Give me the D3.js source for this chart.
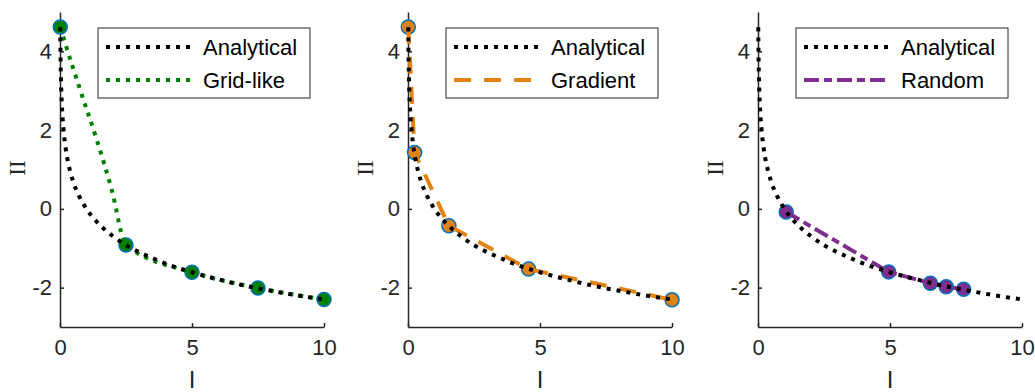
<!DOCTYPE html>
<html>
<head>
<meta charset="utf-8">
<script src="https://cdn.jsdelivr.net/npm/d3@7"></script>
<style>
  html, body { margin: 0; padding: 0; background: #fff; }
  svg { display: block; }
</style>
</head>
<body>
<svg id="chart" width="1035" height="392"></svg>
<script>
// ---- data ----
const xTicks = [0, 5, 10];
const yTicks = [-2, 0, 2, 4];
const xDomain = [0, 10];
const yDomain = [-3, 5];

const analyticalX = [0.01, 0.02, 0.04, 0.07, 0.1, 0.15, 0.2, 0.3, 0.4, 0.5, 0.7, 1, 1.3, 1.7, 2, 2.5, 3, 3.5, 4, 5, 6, 7, 8, 9, 10];
const analyticalY = [4.61, 3.91, 3.22, 2.66, 2.30, 1.90, 1.61, 1.20, 0.92, 0.69, 0.36, 0, -0.26, -0.53, -0.69, -0.92, -1.10, -1.25, -1.39, -1.61, -1.79, -1.95, -2.08, -2.20, -2.30];

const gridX = [0.01, 2.5, 5, 7.5, 10];
const gridY = [4.62, -0.92, -1.61, -2.01, -2.30];
const gridLineX = [0.01, 0.19, 0.76, 1.39, 1.96, 2.5, 5, 7.5, 10];
const gridLineY = [4.62, 4.22, 3.03, 1.76, 0.48, -0.92, -1.61, -2.01, -2.30];

const gradX = [0.01, 0.25, 1.55, 4.57, 10];
const gradY = [4.62, 1.43, -0.43, -1.53, -2.31];

const randX = [1.07, 4.95, 6.53, 7.13, 7.79];
const randY = [-0.08, -1.60, -1.89, -1.98, -2.04];

const methodNames = ["Grid-like", "Gradient", "Random"];
const methodColors = ["#008000", "#E3830F", "#7E2F8E"];
const methodDash = ["4,6", "17,13", "15,5,8,5"];
const panelLeft = [60, 408, 758];

// ---- drawing ----
const svg = d3.select("#chart");
const axisColor = "#262626";
const panelW = 264;
const yScale = d3.scaleLinear().domain(yDomain).range([327, 12]);

const panels = [
  { name: methodNames[0], lx: gridLineX, ly: gridLineY, mx: gridX, my: gridY },
  { name: methodNames[1], lx: gradX, ly: gradY, mx: gradX, my: gradY },
  { name: methodNames[2], lx: randX, ly: randY, mx: randX, my: randY }
];

panels.forEach((p, i) => {
  const x0 = panelLeft[i];
  const xScale = d3.scaleLinear().domain(xDomain).range([x0, x0 + panelW]);
  const g = svg.append("g");

  // axes
  const xAxis = d3.axisBottom(xScale).tickValues(xTicks).tickSize(-4).tickSizeOuter(0).tickPadding(12).tickFormat(d3.format("d"));
  const yAxis = d3.axisLeft(yScale).tickValues(yTicks).tickSize(-4).tickSizeOuter(0).tickPadding(8).tickFormat(d => d < 0 ? "-" + Math.abs(d) : d);

  const gx = g.append("g").attr("transform", `translate(0,${yScale(yDomain[0])})`).call(xAxis);
  const gy = g.append("g").attr("transform", `translate(${x0},0)`).call(yAxis);
  [gx, gy].forEach(a => {
    a.select(".domain").attr("stroke", axisColor).attr("stroke-width", 1.5);
    a.selectAll(".tick line").attr("stroke", axisColor).attr("stroke-width", 1.5);
    a.selectAll(".tick text").attr("fill", axisColor)
      .style("font-family", "'Liberation Sans', Arial, sans-serif").style("font-size", "22px");
  });
  gx.selectAll(".tick text").attr("dy", "0.71em");

  // axis labels
  g.append("text")
    .attr("x", x0 + panelW / 2).attr("y", 388)
    .attr("text-anchor", "middle")
    .attr("fill", axisColor)
    .style("font-family", "'Liberation Sans', Arial, sans-serif").style("font-size", "24px")
    .text("I");
  g.append("text")
    .attr("transform", `translate(${x0 - 35},168) rotate(-90)`)
    .attr("text-anchor", "middle")
    .attr("fill", axisColor)
    .style("font-family", "'Liberation Serif', 'Times New Roman', serif").style("font-size", "23px")
    .text("II");

  // markers
  const pts = p.mx.map((v, k) => [v, p.my[k]]);
  g.selectAll("circle.m").data(pts).enter().append("circle")
    .attr("cx", d => xScale(d[0])).attr("cy", d => yScale(d[1]))
    .attr("r", 7)
    .attr("fill", methodColors[i])
    .attr("stroke", "#0072BD").attr("stroke-width", 1.5);

  // method line
  const line = d3.line().x(d => xScale(d[0])).y(d => yScale(d[1]));
  const mline = p.lx.map((v, k) => [v, p.ly[k]]);
  g.append("path").datum(mline)
    .attr("d", line.curve(i === 0 ? d3.curveMonotoneX : d3.curveLinear))
    .attr("fill", "none")
    .attr("stroke", methodColors[i]).attr("stroke-width", 4)
    .attr("stroke-dasharray", methodDash[i]);

  // analytical
  const aline = analyticalX.map((v, k) => [v, analyticalY[k]]);
  g.append("path").datum(aline)
    .attr("d", d3.line().x(d => xScale(d[0])).y(d => yScale(d[1])).curve(d3.curveMonotoneX))
    .attr("fill", "none")
    .attr("stroke", "#000").attr("stroke-width", 4)
    .attr("stroke-dasharray", "4,6");

  // legend
  const lw = 212, lh = 70;
  const lx = x0 + panelW - 14 - lw, ly = 28;
  const lg = g.append("g").attr("transform", `translate(${lx},${ly})`);
  lg.append("rect").attr("width", lw).attr("height", lh)
    .attr("fill", "#fff").attr("stroke", axisColor).attr("stroke-width", 1);
  const entries = [
    { label: "Analytical", color: "#000", dash: "4,6" },
    { label: p.name, color: methodColors[i], dash: methodDash[i] }
  ];
  entries.forEach((e, k) => {
    const yy = 19 + k * 33;
    lg.append("line").attr("x1", 8).attr("x2", 92).attr("y1", yy).attr("y2", yy)
      .attr("stroke", e.color).attr("stroke-width", 4).attr("stroke-dasharray", e.dash);
    lg.append("text").attr("x", 105).attr("y", yy).attr("dy", "0.36em")
      .attr("fill", "#000")
      .style("font-family", "'Liberation Sans', Arial, sans-serif").style("font-size", "22px")
      .text(e.label);
  });
});
</script>
</body>
</html>
